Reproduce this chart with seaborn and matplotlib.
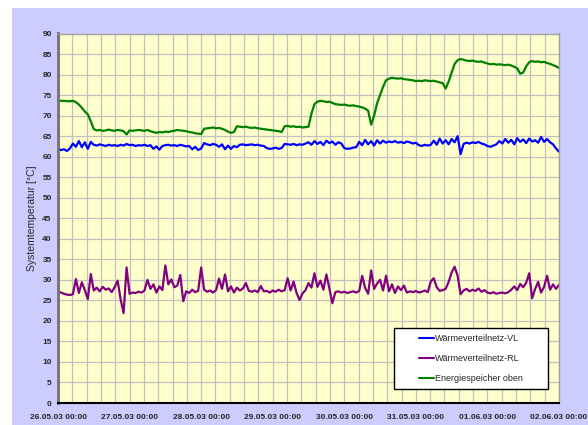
import pandas as pd
import numpy as np
import matplotlib
matplotlib.use('Agg')
import matplotlib.pyplot as plt
import matplotlib.dates as mdates
from matplotlib.patches import Rectangle
from matplotlib.ticker import MultipleLocator
import seaborn as sns

# hourly readings from 26.05.03 00:00 to 02.06.03 00:00
start = "2003-05-26 00:00"
end = "2003-06-02 00:00"

vl = [62.0, 61.6, 61.8, 61.4, 62.0,
      63.2, 62.4, 63.8, 62.3, 63.5, 61.9, 63.6,
      62.9, 62.7, 63.0, 62.8, 62.6, 62.9, 62.7, 62.8, 62.6, 62.9, 62.7,
      63.1, 62.8, 62.9, 62.6, 62.8, 62.7, 62.9, 62.6, 62.8,
      61.9, 62.5, 61.7, 62.6,
      62.8, 62.9, 62.7, 62.8, 62.6, 62.9, 62.7, 62.5, 62.6,
      61.8, 62.4, 61.6, 62.0,
      63.3, 63.0, 62.8, 63.1, 62.9,
      62.4, 63.0, 61.8, 62.7, 61.9, 62.6, 62.3,
      62.9, 63.0, 62.8, 62.9, 63.0, 62.8, 62.9, 62.7, 62.6,
      62.1, 61.9, 62.0, 62.2, 61.9, 62.1,
      63.1, 63.0, 62.9, 63.1, 62.8, 63.0, 62.9, 63.2,
      63.5, 62.9, 63.8, 63.1, 63.6, 62.8, 63.9, 63.3, 63.7, 62.9, 63.5, 63.2,
      62.1, 61.9, 62.0, 62.2, 62.3,
      63.6, 62.8, 64.1, 63.0, 63.8, 62.7, 64.0, 63.2, 63.9, 63.4,
      63.7, 63.5, 63.8, 63.4, 63.6, 63.3, 63.7, 63.5, 63.2, 63.4,
      62.8, 62.6, 62.9, 62.7, 62.9,
      63.9, 62.9, 64.4, 63.2, 64.0, 63.0, 64.3, 63.5,
      65.0, 60.6, 63.1,
      63.4, 63.2, 63.5, 63.3, 63.6, 63.2, 63.0, 62.6, 62.4, 62.7, 63.0,
      63.8, 63.2, 64.3, 63.4, 64.1, 63.0, 64.5, 63.6, 64.2, 63.3, 64.4, 63.7,
      64.0, 63.4, 64.8, 63.6, 64.3, 63.5,
      63.0, 62.0, 61.2]

rl = [27.2, 26.9, 26.6, 26.4, 26.3, 26.5,
      30.2, 26.8, 29.4, 27.5, 25.3, 31.4,
      27.4, 28.1, 27.2, 28.3, 27.6, 27.9, 27.0, 28.2,
      29.8, 25.2, 21.9, 33.0, 26.6,
      26.9, 26.8, 27.1, 26.9, 27.4,
      30.0, 27.8, 28.9, 26.9, 28.4, 27.5,
      33.5, 28.9, 30.1, 28.2, 28.6,
      31.2, 24.8, 27.2, 26.8, 27.6, 27.0, 27.3,
      33.0, 27.6, 27.1, 27.4, 26.9, 27.5,
      30.3, 27.8, 31.3, 27.2, 28.4, 26.9, 28.1, 27.4, 27.9,
      29.2, 27.3, 27.1, 27.4, 27.0, 28.5, 27.2, 27.3, 26.9, 27.4, 27.1, 27.6, 27.2, 27.5,
      30.4, 27.4, 29.6, 26.8, 25.1, 26.7,
      27.5, 29.2, 28.1, 31.6, 28.3,
      29.8, 27.6, 31.3, 27.9,
      24.3, 27.0, 27.2, 26.9, 27.1, 26.8, 27.0, 27.2, 26.9, 27.3,
      31.0, 28.0, 26.6, 32.3, 27.8, 29.1, 30.0, 27.4,
      31.0, 27.2, 28.9, 26.8, 28.4, 27.5, 28.6, 26.9,
      27.2, 27.0, 27.3, 26.9, 27.1, 27.4, 27.0,
      29.6, 30.4, 28.2, 27.3,
      27.5, 27.8, 29.5, 31.8, 33.2, 31.0,
      26.5, 27.4, 27.8, 27.2, 27.6, 27.3, 27.9, 27.1, 27.5,
      26.9, 26.7, 27.0, 26.6, 26.8, 26.9, 26.7, 27.0,
      27.6, 28.4, 27.5, 29.0, 28.2, 29.3,
      31.6, 25.5, 27.8, 29.5, 26.9, 28.3, 31.0,
      27.6, 28.9, 27.8, 28.8]

speicher = [73.7, 73.6, 73.6, 73.5, 73.5, 73.6,
            73.3, 72.7, 71.9, 71.0, 70.3, 68.6, 66.7,
            66.4, 66.5, 66.3, 66.4, 66.6, 66.4, 66.3, 66.5, 66.4, 66.2,
            65.4, 66.4,
            66.3, 66.4, 66.5, 66.4, 66.3, 66.5, 66.2, 66.0, 65.8, 66.0, 65.9, 66.1,
            66.0, 66.2, 66.3, 66.5, 66.4, 66.3, 66.2, 66.0, 65.9, 65.7, 65.6, 65.5,
            66.8, 66.9, 67.0, 67.1, 66.9, 67.0, 66.8, 66.5, 66.1,
            65.8, 66.0, 67.4,
            67.3, 67.2, 67.3, 67.1, 67.0, 67.1, 66.9, 66.8, 66.7, 66.6, 66.5, 66.4, 66.3, 66.2, 66.0,
            67.4, 67.5, 67.3, 67.4, 67.2, 67.3, 67.1, 67.2, 67.3,
            70.5, 72.8, 73.4,
            73.6, 73.5, 73.3, 73.4, 73.1, 72.8, 72.7, 72.6, 72.7, 72.5, 72.4, 72.5, 72.3,
            72.2, 72.0, 71.7, 71.2, 67.8, 70.0, 73.0, 75.0, 77.0, 78.6, 79.0, 79.2,
            79.1, 79.0, 79.1, 78.9, 78.8, 78.7, 78.6, 78.4, 78.5, 78.4, 78.6, 78.5, 78.4,
            78.5, 78.3, 78.1, 77.9, 76.6, 78.3, 80.5, 82.6, 83.5, 83.8,
            83.6, 83.4, 83.3, 83.4, 83.2, 83.1, 83.2, 82.9, 82.7, 82.5, 82.6, 82.4, 82.5, 82.4, 82.3,
            82.4, 82.2, 81.9, 81.5, 80.2, 80.5, 82.0, 83.0, 83.3,
            83.1, 83.2, 83.0, 83.1, 82.8, 82.6, 82.3, 82.0, 81.6]

series_names = ["Wärmeverteilnetz-VL", "Wärmeverteilnetz-RL", "Energiespeicher oben"]
series_values = [vl, rl, speicher]
colors = ["#0000FF", "#800080", "#008000"]

# long table for seaborn
frames = []
for name, vals in zip(series_names, series_values):
    frames.append(pd.DataFrame({
        "time": pd.date_range(start, periods=len(vals), freq="h"),
        "temp": vals,
        "series": name,
    }))
df = pd.concat(frames, ignore_index=True)

sns.set_style("white")
plt.rcParams['font.family'] = ['Liberation Sans', 'DejaVu Sans']

fig = plt.figure(figsize=(5.88, 4.25), dpi=100, facecolor="white")
fig.patches.append(Rectangle((12 / 588, 0), 1, (425 - 8) / 425, transform=fig.transFigure,
                             facecolor="#CCCCFF", edgecolor="none", zorder=-10))
ax = fig.add_axes([58 / 588, 22 / 425, 501 / 588, 369.5 / 425])
ax.set_facecolor("#FFFFCC")

sns.lineplot(data=df, x="time", y="temp", hue="series", palette=dict(zip(series_names, colors)),
             estimator=None, linewidth=1.6, ax=ax, legend=False)

ax.set_xlim(pd.Timestamp(start), pd.Timestamp(end))
ax.set_ylim(0, 90)
ax.yaxis.set_major_locator(MultipleLocator(5))
ax.xaxis.set_major_locator(mdates.DayLocator())
ax.xaxis.set_minor_locator(MultipleLocator(0.2))
ax.xaxis.set_major_formatter(mdates.DateFormatter("%d.%m.%y %H:%M"))

ax.grid(True, which="major", color="#C0C0C0", linewidth=0.9)
ax.grid(True, which="minor", axis="x", color="#C0C0C0", linewidth=0.9)
ax.set_axisbelow(True)

ax.tick_params(axis="y", direction="out", length=3, width=1, pad=1.5, labelsize=6)
ax.tick_params(axis="x", which="major", direction="out", length=3, width=1, pad=5, labelsize=6)
ax.tick_params(axis="x", which="minor", length=0)
for lab in ax.get_xticklabels() + ax.get_yticklabels():
    lab.set_fontweight("bold")

for side in ["top", "right"]:
    ax.spines[side].set_color("#A0A0A0")
    ax.spines[side].set_linewidth(1)
ax.spines["left"].set_color("#707070")
ax.spines["left"].set_linewidth(2)
ax.spines["bottom"].set_color("black")
ax.spines["bottom"].set_linewidth(1.5)

ax.set_xlabel("")
ax.set_ylabel("Systemtemperatur [°C]", fontsize=7.5, labelpad=4)

# legend box
ax.add_patch(Rectangle((0.671, 0.038), 0.307, 0.165, transform=ax.transAxes,
                       facecolor="white", edgecolor="black", linewidth=1, zorder=5))
handles = [plt.Line2D([], [], color=c, linewidth=1.5) for c in colors]
leg = ax.legend(handles, series_names, loc="center", bbox_to_anchor=(0.8245, 0.1205),
                frameon=False, fontsize=6.5, handlelength=1.7, handletextpad=0.1,
                labelspacing=1.2, borderpad=0)
leg.set_zorder(6)

plt.savefig("out.png", dpi=100, facecolor=fig.get_facecolor())
plt.close()
